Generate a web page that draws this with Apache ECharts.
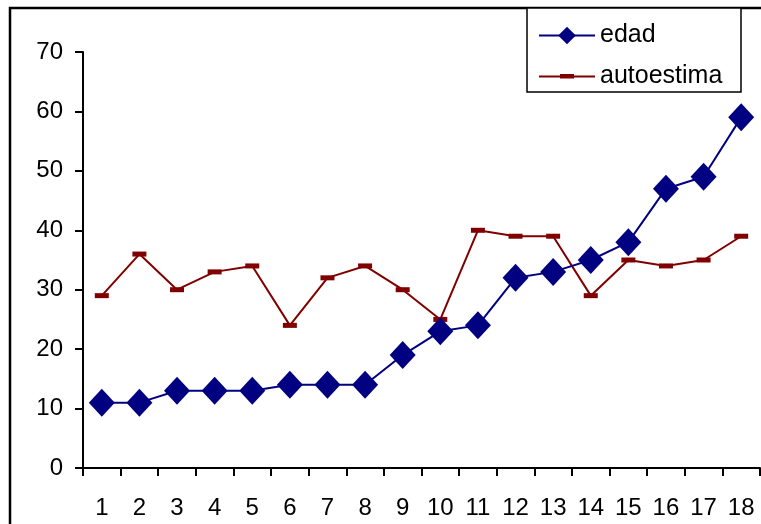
<!DOCTYPE html>
<html>
<head>
<meta charset="utf-8">
<script src="https://cdn.jsdelivr.net/npm/echarts@6/dist/echarts.min.js"></script>
<style>
  html, body { margin: 0; padding: 0; background: #fff; }
  #chart { width: 761px; height: 524px; }
</style>
</head>
<body>
<div id="chart"></div>
<script>
const categories = ['1', '2', '3', '4', '5', '6', '7', '8', '9', '10', '11', '12', '13', '14', '15', '16', '17', '18'];
const edad = [11, 11, 13, 13, 13, 14, 14, 14, 19, 23, 24, 32, 33, 35, 38, 47, 49, 59];
const autoestima = [29, 36, 30, 33, 34, 24, 32, 34, 30, 25, 40, 39, 39, 29, 35, 34, 35, 39];

const font = 'Liberation Sans, Arial, sans-serif';
// icono de leyenda: linea + guion (caja 56x22)
const iconGuion = 'path://M0,0L0.01,0L0,0.01Z M56,22L55.99,22L56,21.99Z'
  + ' M0,10L56,10L56,12L0,12Z M21,8.5L35,8.5L35,13L21,13Z';

const myChart = echarts.init(document.getElementById('chart'));

const option = {
  animation: false,
  backgroundColor: '#fff',
  grid: {
    left: 83,
    right: 1,
    top: 52,
    bottom: 56,
  },
  // marco exterior y caja de la leyenda
  graphic: [
    {
      type: 'rect',
      shape: { x: 10, y: 8, width: 800, height: 600 },
      style: { fill: 'none', stroke: '#000', lineWidth: 2.5 },
    },
    {
      type: 'rect',
      shape: { x: 527, y: 8, width: 214, height: 84 },
      style: { fill: '#fff', stroke: '#000', lineWidth: 1.5 },
      z: 5,
    },
  ],
  legend: {
    orient: 'vertical',
    left: 533,
    top: 18,
    itemWidth: 56,
    itemHeight: 22,
    itemGap: 16,
    z: 10,
    textStyle: {
      color: '#000',
      fontSize: 25,
      fontFamily: font,
    },
    data: [
      'edad',
      { name: 'autoestima', icon: iconGuion },
    ],
  },
  xAxis: {
    type: 'category',
    data: categories,
    boundaryGap: true,
    axisLine: { lineStyle: { color: '#000', width: 2 } },
    axisTick: { show: true, length: 8, lineStyle: { color: '#000', width: 2 } },
    axisLabel: {
      color: '#000',
      fontSize: 24,
      fontFamily: font,
      margin: 28,
    },
  },
  yAxis: {
    type: 'value',
    min: 0,
    max: 70,
    interval: 10,
    splitLine: { show: false },
    axisLine: { show: true, lineStyle: { color: '#000', width: 2 } },
    axisTick: { show: true, length: 8, lineStyle: { color: '#000', width: 2 } },
    axisLabel: {
      color: '#000',
      fontSize: 24,
      fontFamily: font,
      margin: 20,
    },
  },
  series: [
    {
      name: 'edad',
      type: 'line',
      data: edad,
      symbol: 'diamond',
      symbolSize: [26, 28],
      lineStyle: { color: '#000080', width: 2 },
      itemStyle: { color: '#000080' },
      z: 3,
    },
    {
      name: 'autoestima',
      type: 'line',
      data: autoestima,
      symbol: 'rect',
      symbolSize: [14, 5],
      lineStyle: { color: '#800000', width: 2 },
      itemStyle: { color: '#800000' },
      z: 2,
    },
  ],
};

myChart.setOption(option);
</script>
</body>
</html>
